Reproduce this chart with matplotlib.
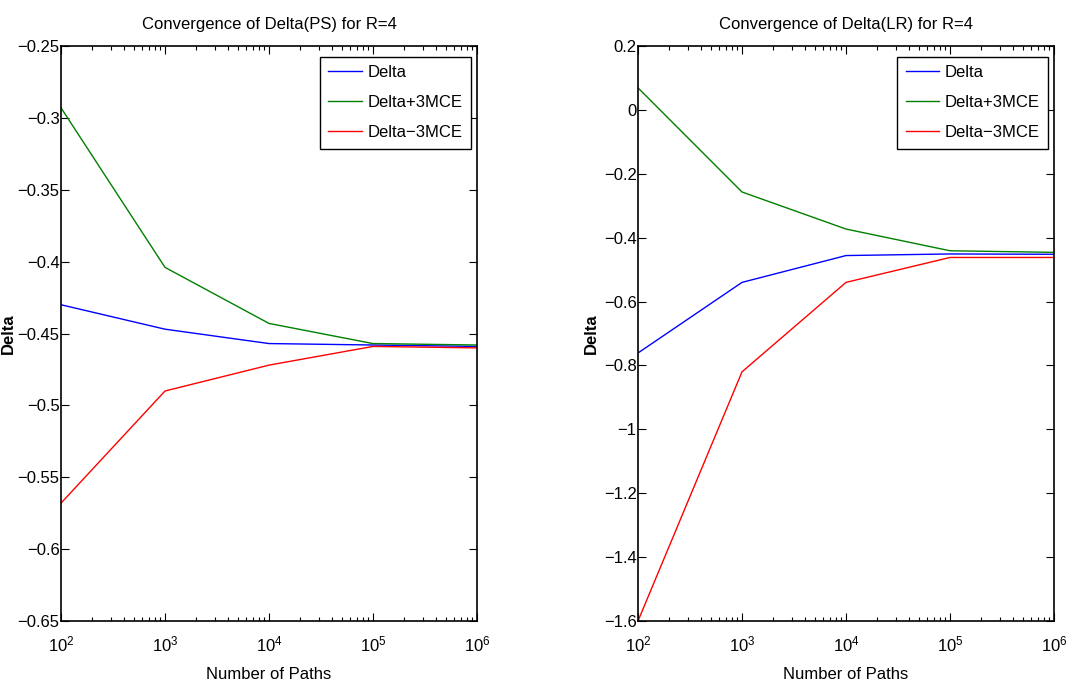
import matplotlib
matplotlib.use('Agg')
import matplotlib.pyplot as plt
from matplotlib.ticker import LogLocator, NullFormatter

plt.rcParams['font.family'] = ['Liberation Sans Narrow', 'Liberation Sans', 'DejaVu Sans']
plt.rcParams['mathtext.fontset'] = 'custom'
plt.rcParams['mathtext.rm'] = 'Liberation Sans'

# number of simulated paths
paths = [1e2, 1e3, 1e4, 1e5, 1e6]

# pathwise (PS) estimator
delta_ps = [-0.430, -0.447, -0.457, -0.458, -0.459]
delta_ps_hi = [-0.293, -0.404, -0.443, -0.457, -0.458]
delta_ps_lo = [-0.568, -0.490, -0.472, -0.459, -0.460]

# likelihood ratio (LR) estimator
delta_lr = [-0.761, -0.540, -0.456, -0.451, -0.452]
delta_lr_hi = [0.069, -0.257, -0.373, -0.441, -0.446]
delta_lr_lo = [-1.600, -0.820, -0.540, -0.462, -0.462]

fig = plt.figure(figsize=(10.88, 6.84), dpi=100)
ax1 = fig.add_axes([61/1088, 1-621/684, 416/1088, 575/684])
ax2 = fig.add_axes([638/1088, 1-621/684, 416/1088, 575/684])

def draw(ax, d, hi, lo, title, ylim, yticks, ylab_x):
    ax.plot(paths, d, color='#0000ff', lw=1.0, label='Delta')
    ax.plot(paths, hi, color='#008000', lw=1.0, label='Delta+3MCE')
    ax.plot(paths, lo, color='#ff0000', lw=1.0, label='Delta\u22123MCE')
    ax.set_xscale('log')
    ax.set_xlim(1e2, 1e6)
    ax.set_ylim(*ylim)
    ax.set_yticks(yticks)
    ax.set_yticklabels([('%g' % t).replace('-', '\u2212') for t in yticks])
    ax.xaxis.set_minor_locator(LogLocator(base=10, subs=range(2, 10), numticks=20))
    ax.xaxis.set_minor_formatter(NullFormatter())
    ax.tick_params(which='both', direction='in', top=True, right=True, labelsize=12)
    ax.tick_params(which='major', length=6, width=0.8)
    ax.tick_params(which='minor', length=3, width=0.8)
    ax.tick_params(axis='y', pad=1)
    ax.tick_params(axis='x', pad=10)
    for s in ax.spines.values():
        s.set_linewidth(1.2)
    ax.set_title(title, fontsize=12, pad=12)
    ax.set_xlabel('Number of Paths', fontsize=12, labelpad=9)
    ax.set_ylabel('Delta', fontsize=12, fontweight='bold', family='Liberation Sans')
    ax.yaxis.set_label_coords(ylab_x, 0.5)
    leg = ax.legend(loc='upper right', bbox_to_anchor=(1 - 6/416, 1 - 11/575),
                    borderaxespad=0, fontsize=12, fancybox=False, framealpha=1,
                    edgecolor='black', handlelength=2.0, labelspacing=0.9,
                    handletextpad=0.35, borderpad=0.5)
    leg.get_frame().set_linewidth(1.0)

draw(ax1, delta_ps, delta_ps_hi, delta_ps_lo, 'Convergence of Delta(PS) for R=4',
     (-0.65, -0.25), [-0.65, -0.6, -0.55, -0.5, -0.45, -0.4, -0.35, -0.3, -0.25],
     -0.108)
draw(ax2, delta_lr, delta_lr_hi, delta_lr_lo, 'Convergence of Delta(LR) for R=4',
     (-1.6, 0.2), [-1.6, -1.4, -1.2, -1, -0.8, -0.6, -0.4, -0.2, 0, 0.2],
     -0.094)

fig.savefig('out.png', dpi=100)
